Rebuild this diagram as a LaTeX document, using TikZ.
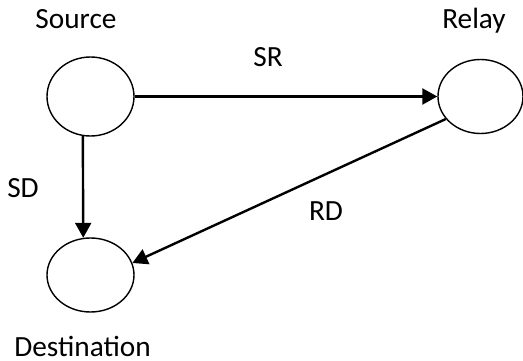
\documentclass[tikz,border=0pt]{standalone}
\usepackage{fontspec}
\setmainfont{Carlito}
\usetikzlibrary{arrows.meta,shapes.geometric}
\begin{document}
\begin{tikzpicture}[x=1pt,y=-1pt,
  station/.style={draw,ellipse,line width=1.4pt,inner sep=0pt},
  link/.style={line width=2.4pt,-{Triangle[length=15pt,width=16pt]}},
  lbl/.style={anchor=base,inner sep=0pt,font=\fontsize{29.3}{33}\selectfont}]
  \useasboundingbox (0,0) rectangle (523,361);
  % stations
  \node[station,minimum width=87pt,minimum height=79pt] (S) at (90.5,96.5) {};
  \node[station,minimum width=85pt,minimum height=74pt] (R) at (480.5,96.5) {};
  \node[station,minimum width=87pt,minimum height=74pt] (D) at (90.5,275) {};
  % station names
  \node[lbl] (sname) at (76,28.5) {Source};
  \node[lbl] (rname) at (474,28.5) {Relay};
  \node[lbl] (dname) at (82.5,356) {Destination};
  % links
  \draw[link] (S.east) -- (R.west);
  \draw[link] (S.259) -- (D.101);
  \draw[link] (R.213) -- (D.16);
  % link labels
  \node[lbl] (sr) at (268,67) {SR};
  \node[lbl] (sd) at (23,197) {SD};
  \node[lbl] (rd) at (326,221) {RD};
\end{tikzpicture}
\end{document}
